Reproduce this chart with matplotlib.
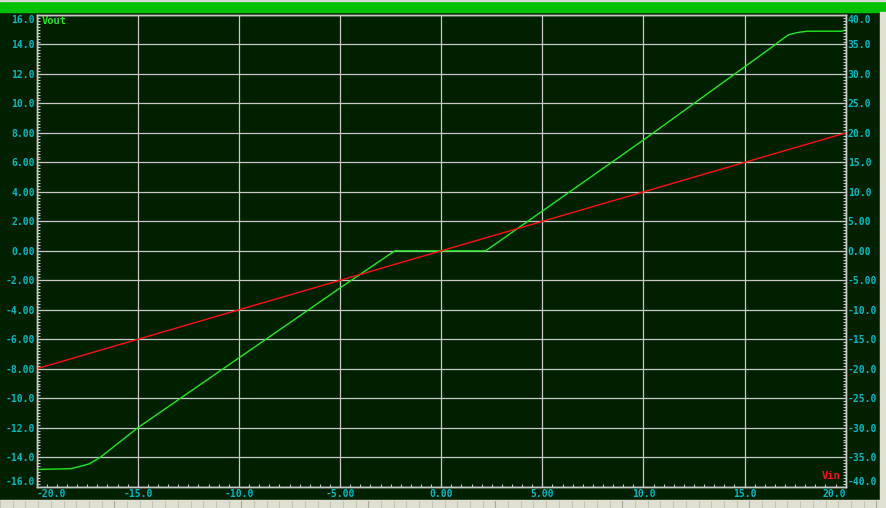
import matplotlib
matplotlib.use("Agg")
import matplotlib.pyplot as plt
from matplotlib.patches import Rectangle
from matplotlib.ticker import MultipleLocator

# Vout trace (left axis)
vout_x = [-20.0, -18.3, -17.8, -17.4, -16.85, -15.0, -5.0, -2.3, 2.2, 10.0, 16.45, 16.7, 17.19, 17.69, 18.1, 19.8, 20.0]
vout_y = [-14.83, -14.78, -14.6, -14.45, -14.0, -12.0, -2.52, 0.0, 0.0, 7.52, 13.92, 14.19, 14.67, 14.83, 14.9, 14.9, 14.97]

# Vin trace (right axis)
vin_x = [-20.0, 20.0]
vin_y = [-20.0, 20.0]

x_ticks = [-20, -15, -10, -5, 0, 5, 10, 15, 20]
x_labels = ["-20.0", "-15.0", "-10.0", "-5.00", "0.00", "5.00", "10.0", "15.0", "20.0"]
left_ticks = list(range(-16, 17, 2))
left_labels = ["-16.0", "-14.0", "-12.0", "-10.0", "-8.00", "-6.00", "-4.00", "-2.00", "0.00",
               "2.00", "4.00", "6.00", "8.00", "10.0", "12.0", "14.0", "16.0"]
right_ticks = list(range(-40, 41, 5))
right_labels = ["-40.0", "-35.0", "-30.0", "-25.0", "-20.0", "-15.0", "-10.0", "-5.00", "0.00",
                "5.00", "10.0", "15.0", "20.0", "25.0", "30.0", "35.0", "40.0"]

bg = "#002000"
grid_c = "#c8c8c8"
cyan = "#00b8c8"
green = "#22e822"
red = "#ff1010"
W, H = 886, 508

plt.rcParams["font.family"] = "DejaVu Sans Mono"
plt.rcParams["font.weight"] = "bold"

fig = plt.figure(figsize=(W / 100, H / 100), dpi=100, facecolor=bg)

# window decorations
fig.add_artist(Rectangle((0, 1 - 12 / H), 1, 12 / H, transform=fig.transFigure, color="#00c000", zorder=0))
fig.add_artist(Rectangle((0, 1 - 1 / H), 1, 1 / H, transform=fig.transFigure, color="#d8d8d8", zorder=0))
fig.add_artist(Rectangle((0, 0), 1, 8 / H, transform=fig.transFigure, color="#e0e0d0", zorder=0))
fig.add_artist(Rectangle((880 / W, 8 / H), 6 / W, 1 - 20 / H, transform=fig.transFigure, color="#e0e0d0", zorder=0))
for k in range(70):
    xs = 12.7 * k / W
    c = "#a8a898" if k % 10 == 9 else "#c4c4b4"
    fig.add_artist(plt.Line2D([xs, xs], [0, 7 / H], transform=fig.transFigure, color=c, lw=0.8))

ax = fig.add_axes([36.7 / W, 1 - 486.7 / H, 809 / W, 471.7 / H])
ax.set_facecolor(bg)
ax.set_xlim(-20, 20)
ax.set_ylim(-16, 16)
ax.set_xticks(x_ticks, x_labels)
ax.set_yticks(left_ticks, left_labels)
ax.xaxis.set_minor_locator(MultipleLocator(0.5))
ax.yaxis.set_minor_locator(MultipleLocator(0.2))
ax.grid(True, which="major", color=grid_c, lw=0.9)
ax.tick_params(which="both", direction="in", color=grid_c, width=0.8, labelcolor=cyan,
               labelsize=7, pad=1.5, top=False, right=False)
ax.tick_params(which="major", length=3)
ax.tick_params(which="minor", length=2.2)
for s in ax.spines.values():
    s.set_color(grid_c)
    s.set_linewidth(1.0)

xl = ax.get_xticklabels()
xl[0].set_ha("left")
xl[-1].set_ha("right")
yl = ax.get_yticklabels()
yl[0].set_va("bottom")
yl[-1].set_va("top")

ax.plot(vout_x, vout_y, color=green, lw=1.0)

ax2 = ax.twinx()
ax2.set_ylim(-40, 40)
ax2.set_yticks(right_ticks, right_labels)
ax2.yaxis.set_minor_locator(MultipleLocator(0.5))
ax2.tick_params(which="both", direction="in", color=grid_c, width=0.8, labelcolor=cyan,
                labelsize=7, pad=1.5)
ax2.tick_params(which="major", length=3)
ax2.tick_params(which="minor", length=2.2)
for s in ax2.spines.values():
    s.set_color(grid_c)
    s.set_linewidth(1.0)
rl = ax2.get_yticklabels()
rl[0].set_va("bottom")
rl[-1].set_va("top")

ax2.plot(vin_x, vin_y, color=red, lw=1.0)

ax.text(0.006, 0.997, "Vout", transform=ax.transAxes, ha="left", va="top", color=green, fontsize=7.5)
ax2.text(0.993, 0.016, "Vin", transform=ax.transAxes, ha="right", va="baseline", color=red, fontsize=7.5)

fig.savefig("out.png", dpi=100, facecolor=bg)
